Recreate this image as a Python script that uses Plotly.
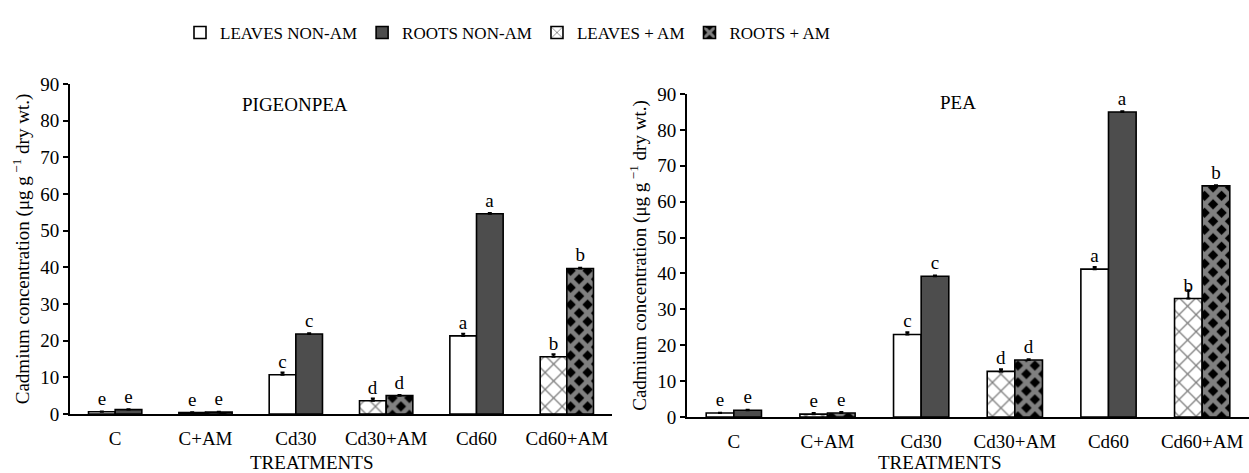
import plotly.graph_objects as go

categories = ["C", "C+AM", "Cd30", "Cd30+AM", "Cd60", "Cd60+AM"]
nonam_cats = ["C", "Cd30", "Cd60"]
am_cats = ["C+AM", "Cd30+AM", "Cd60+AM"]

# PIGEONPEA
pp_leaves_nonam = [0.6, 10.7, 21.3]
pp_leaves_nonam_err = [0.1, 0.6, 0.6]
pp_leaves_nonam_lbl = ["e", "c", "a"]
pp_roots_nonam = [1.2, 21.8, 54.6]
pp_roots_nonam_err = [0.1, 0.2, 0.2]
pp_roots_nonam_lbl = ["e", "c", "a"]
pp_leaves_am = [0.4, 3.6, 15.6]
pp_leaves_am_err = [0.1, 0.6, 0.7]
pp_leaves_am_lbl = ["e", "d", "b"]
pp_roots_am = [0.5, 5.0, 39.7]
pp_roots_am_err = [0.1, 0.2, 0.2]
pp_roots_am_lbl = ["e", "d", "b"]

# PEA
pea_leaves_nonam = [1.1, 23.0, 41.2]
pea_leaves_nonam_err = [0.1, 0.6, 0.6]
pea_leaves_nonam_lbl = ["e", "c", "a"]
pea_roots_nonam = [1.9, 39.2, 85.0]
pea_roots_nonam_err = [0.1, 0.2, 0.2]
pea_roots_nonam_lbl = ["e", "c", "a"]
pea_leaves_am = [0.8, 12.7, 33.0]
pea_leaves_am_err = [0.3, 0.6, 2.3]
pea_leaves_am_lbl = ["e", "d", "b"]
pea_roots_am = [1.1, 15.9, 64.4]
pea_roots_am_err = [0.3, 0.2, 0.2]
pea_roots_am_lbl = ["e", "d", "b"]

series_names = ["LEAVES NON-AM", "ROOTS NON-AM", "LEAVES + AM", "ROOTS + AM"]

FONT = "Liberation Serif"
W, H = 1249, 473
FS = 19

styles = {
    "LEAVES NON-AM": dict(color="white", pattern=dict(shape="")),
    "ROOTS NON-AM": dict(color="#4d4d4d", pattern=dict(shape="")),
    "LEAVES + AM": dict(color="white", pattern=dict(shape="x", fgcolor="#000000", bgcolor="white", size=12, solidity=0.2)),
    "ROOTS + AM": dict(color="black", pattern=dict(shape="x", fgcolor="white", bgcolor="black", size=12, solidity=0.62)),
}
ogroup = {"LEAVES NON-AM": "L", "ROOTS NON-AM": "R", "LEAVES + AM": "L", "ROOTS + AM": "R"}

fig = go.Figure()

def add(name, xs, ys, err, lbl, xa, ya, show):
    st = styles[name]
    fig.add_trace(go.Bar(
        x=xs, y=ys, name=name, xaxis=xa, yaxis=ya, offsetgroup=ogroup[name],
        legendgroup=name, showlegend=show,
        marker=dict(color=st["color"], pattern=st["pattern"], line=dict(color="black", width=1.6)),
        error_y=dict(type="data", array=err, symmetric=False, color="black", thickness=2, width=2),
        text=lbl, textposition="outside", cliponaxis=False,
        textfont=dict(family=FONT, size=FS, color="black"),
    ))

add("LEAVES NON-AM", nonam_cats, pp_leaves_nonam, pp_leaves_nonam_err, pp_leaves_nonam_lbl, "x", "y", True)
add("ROOTS NON-AM", nonam_cats, pp_roots_nonam, pp_roots_nonam_err, pp_roots_nonam_lbl, "x", "y", True)
add("LEAVES + AM", am_cats, pp_leaves_am, pp_leaves_am_err, pp_leaves_am_lbl, "x", "y", True)
add("ROOTS + AM", am_cats, pp_roots_am, pp_roots_am_err, pp_roots_am_lbl, "x", "y", True)

add("LEAVES NON-AM", nonam_cats, pea_leaves_nonam, pea_leaves_nonam_err, pea_leaves_nonam_lbl, "x2", "y2", False)
add("ROOTS NON-AM", nonam_cats, pea_roots_nonam, pea_roots_nonam_err, pea_roots_nonam_lbl, "x2", "y2", False)
add("LEAVES + AM", am_cats, pea_leaves_am, pea_leaves_am_err, pea_leaves_am_lbl, "x2", "y2", False)
add("ROOTS + AM", am_cats, pea_roots_am, pea_roots_am_err, pea_roots_am_lbl, "x2", "y2", False)

def px_x(p):
    return p / W

def px_y(p):
    return 1 - p / H

xcommon = dict(type="category", categoryorder="array", categoryarray=categories,
               showline=True, linecolor="black", linewidth=2, ticks="", showgrid=False,
               ticklabelstandoff=6,
               tickfont=dict(family=FONT, size=FS, color="black"), zeroline=False)
ycommon = dict(range=[0, 90], dtick=10, showline=True, linecolor="black", linewidth=2,
               ticks="outside", ticklen=5, tickwidth=2, tickcolor="black", showgrid=False,
               zeroline=False, tickfont=dict(family=FONT, size=FS, color="black"),
               title=dict(text="Cadmium concentration (μg g<sup> −1</sup> dry wt.)",
                          font=dict(family=FONT, size=FS, color="black"), standoff=6))

def ann(text, x, y):
    return dict(text=text, x=px_x(x), y=px_y(y), xref="paper", yref="paper",
                xanchor="center", yanchor="middle", showarrow=False,
                font=dict(family=FONT, size=FS, color="black"))

fig.update_layout(
    width=W, height=H, margin=dict(l=0, r=0, t=0, b=0, autoexpand=False),
    plot_bgcolor="white", paper_bgcolor="white",
    barmode="group", bargap=0.41, bargroupgap=0,
    font=dict(family=FONT, color="black"),
    xaxis=dict(domain=[px_x(70), px_x(612)], anchor="y", **xcommon),
    yaxis=dict(domain=[px_y(414), px_y(84)], anchor="x", **ycommon),
    xaxis2=dict(domain=[px_x(687), 1.0], anchor="y2", **xcommon),
    yaxis2=dict(domain=[px_y(417), px_y(94)], anchor="x2", **ycommon),
    legend=dict(orientation="h", x=px_x(180), xanchor="left", y=px_y(33), yanchor="middle",
                font=dict(family=FONT, size=17, color="black"), itemwidth=30,
                traceorder="normal", bgcolor="rgba(0,0,0,0)"),
    annotations=[
        ann("PIGEONPEA", 295, 104),
        ann("PEA", 958, 102),
        ann("TREATMENTS", 312, 462),
        ann("TREATMENTS", 940, 462),
    ],
)

fig.write_html("out.html")
